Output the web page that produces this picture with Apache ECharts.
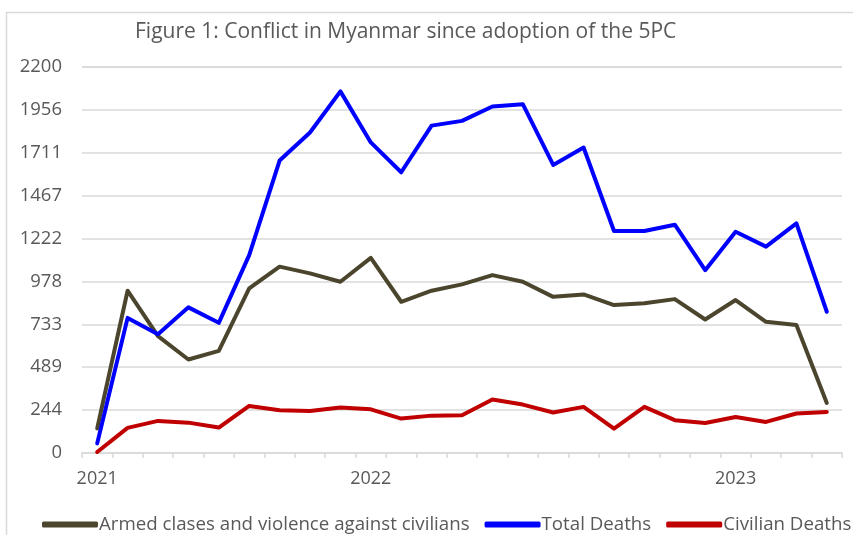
<!DOCTYPE html>
<html><head><meta charset="utf-8">
<script src="https://cdn.jsdelivr.net/npm/echarts@6/dist/echarts.min.js"></script>
<style>html,body{margin:0;padding:0;background:#fff}#c{width:853px;height:535px}</style>
</head><body><div id="c"></div>
<script>
const categories = ['2021-04','2021-05','2021-06','2021-07','2021-08','2021-09','2021-10','2021-11','2021-12','2022-01','2022-02','2022-03','2022-04','2022-05','2022-06','2022-07','2022-08','2022-09','2022-10','2022-11','2022-12','2023-01','2023-02','2023-03','2023-04'];
const tickLabels = {'2021-04':'2021','2022-01':'2022','2023-01':'2023'};
const armedClashes = [140,925,666,533,582,938,1062,1024,976,1112,862,925,961,1014,976,890,904,843,853,877,761,872,748,729,285];
const totalDeaths = [55,770,677,830,742,1128,1667,1827,2061,1770,1600,1866,1893,1975,1988,1642,1741,1265,1265,1301,1042,1261,1176,1309,805];
const civilianDeaths = [6,143,183,173,145,268,244,240,259,249,196,213,215,305,276,231,263,139,263,187,171,205,177,225,234];
const yMax = 2200, ySteps = 9;
const font = '"Open Sans", "Noto Sans", sans-serif';
const chart = echarts.init(document.getElementById('c'), null, {renderer:'canvas'});
const mk = (name, data, color) => ({name, type:'line', data, symbol:'none', lineStyle:{width:4, color, cap:'round', join:'round'}, itemStyle:{color}, animation:false});
chart.setOption({
  backgroundColor:'#fff',
  animation:false,
  title:{text:'Figure 1: Conflict in Myanmar since adoption of the 5PC', left:130, top:17, textStyle:{fontFamily:font, fontSize:21, fontWeight:'normal', color:'#595959'}},
  graphic:[
    {type:'line', shape:{x1:6, y1:12.5, x2:853, y2:12.5}, style:{stroke:'#d9d9d9', lineWidth:1.5}},
    {type:'line', shape:{x1:6.5, y1:12, x2:6.5, y2:535}, style:{stroke:'#d9d9d9', lineWidth:1.5}}
  ],
  grid:{left:82, right:11, top:67, bottom:82, containLabel:false},
  legend:{bottom:1, left:42, width:900, itemWidth:56, itemHeight:6, itemGap:15, icon:'roundRect', padding:0,
    textStyle:{fontFamily:font, fontSize:18.7, color:'#595959', padding:[0,0,0,-4]},
    data:['Armed clases and violence against civilians','Total Deaths','Civilian Deaths']},
  xAxis:{type:'category', data:categories, boundaryGap:true,
    axisLine:{lineStyle:{color:'#d9d9d9', width:1.5}},
    axisTick:{show:true, interval:0, length:5, lineStyle:{color:'#d9d9d9', width:1.5}},
    axisLabel:{interval:0, margin:17, fontFamily:font, fontSize:18, color:'#595959', formatter:v=>tickLabels[v]||''}},
  yAxis:{type:'value', min:0, max:yMax, interval:yMax/ySteps,
    axisLine:{show:false}, axisTick:{show:false},
    splitLine:{lineStyle:{color:'#d9d9d9', width:1.5}},
    axisLabel:{margin:20, fontFamily:font, fontSize:18.5, color:'#595959', formatter:v=>String(Math.round(v))}},
  series:[
    mk('Armed clases and violence against civilians', armedClashes, '#4b452d'),
    mk('Total Deaths', totalDeaths, '#0000ff'),
    mk('Civilian Deaths', civilianDeaths, '#c00000')
  ]
});
</script></body></html>
